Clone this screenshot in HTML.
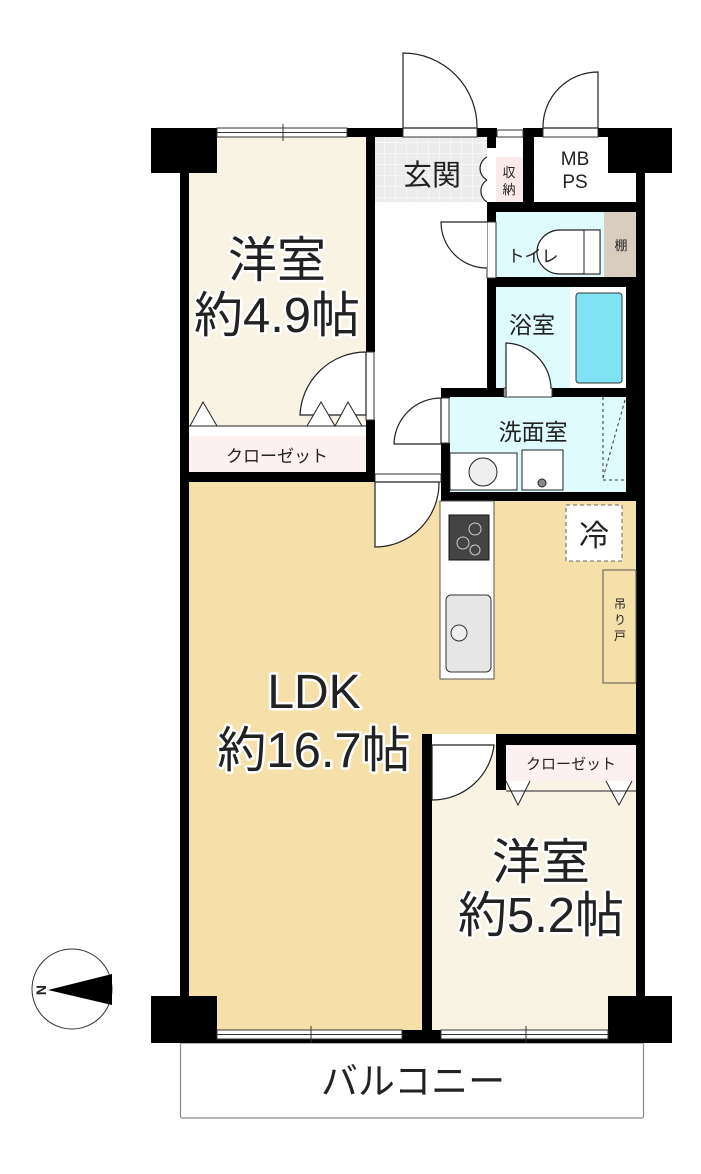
<!DOCTYPE html>
<html><head><meta charset="utf-8"><style>
html,body{margin:0;padding:0;background:#fff;}
svg{display:block;}
text{font-family:"Liberation Sans","Noto Sans CJK JP",sans-serif;fill:#222;}
.big{stroke:#fff;stroke-width:5;paint-order:stroke;stroke-linejoin:round;}
</style></head><body>
<svg width="701" height="1174" viewBox="0 0 701 1174" xmlns="http://www.w3.org/2000/svg">
<defs>
<pattern id="grid" width="11" height="11" patternUnits="userSpaceOnUse">
<rect width="11" height="11" fill="#ececec"/><path d="M11 0V11H0" fill="none" stroke="#fff" stroke-width="1"/>
</pattern>
</defs>
<rect x="180.5" y="1043" width="463" height="75" fill="#fff" stroke="#888" stroke-width="1.2" rx="2"/>
<rect x="189" y="137" width="177" height="335" fill="#f9f3e4"/>
<rect x="189" y="436" width="177" height="36" fill="#fdf0f0"/>
<rect x="189" y="426" width="177" height="10" fill="#fff"/>
<rect x="375" y="137" width="112" height="65" fill="url(#grid)"/>
<rect x="496" y="157" width="27" height="45" fill="#fbeaea"/>
<rect x="534" y="137" width="74" height="65" fill="#fff"/>
<rect x="496" y="212" width="108" height="65" fill="#dffbfd"/>
<rect x="604" y="212" width="32" height="65" fill="#d8cdbf"/>
<rect x="496" y="287" width="130" height="101" fill="#dffbfd"/>
<rect x="570" y="287" width="56" height="101" fill="#fff"/>
<rect x="576" y="293" width="46" height="90" fill="#7fe3f3" stroke="#333" stroke-width="1" rx="3"/>
<rect x="450" y="397" width="177" height="95" fill="#dffbfd"/>
<rect x="189" y="482" width="243" height="552" fill="#f6e0a9"/>
<rect x="432" y="501" width="204" height="233" fill="#f6e0a9"/>
<rect x="432" y="745" width="204" height="289" fill="#f9f3e4"/>
<rect x="506" y="745" width="130" height="36" fill="#fdf0f0"/>
<g fill="#000">
<rect x="180" y="137" width="9" height="906"/>
<rect x="636" y="137" width="9" height="906"/>
<rect x="151" y="128" width="66" height="45"/>
<rect x="608" y="128" width="64" height="45"/>
<rect x="151" y="996" width="66" height="47"/>
<rect x="608" y="996" width="64" height="47"/>
<rect x="347" y="128" width="56" height="9"/>
<rect x="477" y="128" width="20" height="9"/>
<rect x="523" y="128" width="20" height="9"/>
<rect x="598" y="128" width="12" height="9"/>
<rect x="366" y="128" width="9" height="224"/>
<rect x="366" y="420" width="9" height="62"/>
<rect x="189" y="472" width="186" height="10"/>
<rect x="487" y="128" width="9" height="20"/>
<rect x="487" y="202" width="9" height="20"/>
<rect x="487" y="278" width="9" height="119"/>
<rect x="523" y="137" width="11" height="65"/>
<rect x="487" y="202" width="158" height="10"/>
<rect x="487" y="277" width="149" height="10"/>
<rect x="626" y="287" width="19" height="110"/>
<rect x="626" y="397" width="19" height="104"/>
<rect x="441" y="388" width="63" height="9"/>
<rect x="552" y="388" width="93" height="9"/>
<rect x="441" y="388" width="9" height="10"/>
<rect x="441" y="443" width="9" height="58"/>
<rect x="441" y="492" width="204" height="9"/>
<rect x="422" y="734" width="10" height="300"/>
<rect x="496" y="734" width="149" height="11"/>
<rect x="496" y="734" width="10" height="56"/>
<rect x="402" y="1030" width="39" height="13"/>
<rect x="217" y="1039" width="391" height="4"/>
</g>
<g fill="#fff" stroke="#333" stroke-width="1">
<rect x="217" y="128" width="130" height="9"/>
<rect x="217" y="1030" width="185" height="9"/>
<rect x="441" y="1030" width="167" height="9"/>
<rect x="403" y="128" width="74" height="9"/>
<rect x="543" y="128" width="55" height="9"/>
<rect x="497" y="130" width="26" height="7"/>
<rect x="366" y="352" width="8" height="68"/>
<rect x="441" y="398" width="8" height="45"/>
<rect x="487" y="222" width="9" height="56"/>
<rect x="504" y="388" width="48" height="9"/>
<rect x="375" y="474" width="66" height="8"/>
</g>
<path d="M217 132.5H347M217 1034.5H402M441 1034.5H608" stroke="#333" stroke-width="1"/>
<path d="M283 124V141M311 1026V1043M526 1026V1043" stroke="#333" stroke-width="1"/>
<g fill="#fff" stroke="#222" stroke-width="1.2">
<path d="M403 128V53A74 74 0 0 1 477 128Z"/>
<path d="M598 128V72A55 55 0 0 0 543 128Z"/>
<path d="M366 415H300A66 66 0 0 1 366 352Z"/>
<path d="M441 444H394A47 47 0 0 1 441 398Z"/>
<path d="M487 222H441A46 46 0 0 0 487 268"/>
<path d="M506 397V343A47 47 0 0 1 551 388"/>
<path d="M375 482V547A64 64 0 0 0 439 482Z"/>
<path d="M432 745V800A62 62 0 0 0 494 745Z"/>
<path d="M487 157A13 13 0 0 0 487 180M487 180A13 13 0 0 0 487 202"/>
</g>
<g fill="#fff" stroke="#222" stroke-width="1">
<path d="M190 426L203 402L217 426M307 426L321 402L335 426L348 402L362 426"/>
<path d="M506 781L518 805L530 781M606 781L619 805L632 781"/>
</g>
<path d="M189 426H366M506 791H636" stroke="#222" stroke-width="1"/>
<path d="M600 230H560A23 22 0 0 0 560 274H600Z" fill="#fff" stroke="#222" stroke-width="1.2"/>
<rect x="584" y="230" width="16" height="44" fill="#fff" stroke="#222" stroke-width="1"/>
<rect x="450" y="453" width="67" height="37" fill="#fff" stroke="#222"/>
<circle cx="483" cy="472" r="14" fill="#eee" stroke="#222"/>
<rect x="522" y="450" width="41" height="40" fill="#fff" stroke="#222"/>
<circle cx="542" cy="483" r="4" fill="#888" stroke="#222"/>
<path d="M603 397V480M603 480H626M603 478L625 400" stroke="#333" stroke-dasharray="3 3" fill="none"/>
<rect x="440" y="501" width="54" height="178" fill="#fff" stroke="#555"/>
<rect x="449" y="515" width="40" height="45" fill="#444" stroke="#111"/>
<g stroke="#ccc" stroke-width="1" fill="none"><circle cx="475" cy="529" r="6"/><circle cx="463" cy="543" r="6"/><circle cx="475" cy="550" r="5"/></g>
<rect x="446" y="595" width="45" height="77" rx="5" fill="#e6e6e6" stroke="#333"/>
<circle cx="459" cy="633" r="8" fill="#eee" stroke="#333"/>
<rect x="566" y="505" width="56" height="56" fill="#fff" stroke="#666" stroke-dasharray="4 3"/>
<rect x="603" y="570" width="33" height="113" fill="#f6e0a9" stroke="#555"/>
<circle cx="72" cy="989" r="40" fill="#fff" stroke="#333" stroke-width="1"/>
<path d="M48 990L112 974V1005Z" fill="#000"/>
<text x="40" y="996" font-size="14" font-weight="bold" transform="rotate(-90 40 990)" text-anchor="middle">N</text>
<g text-anchor="middle">
<text class="big" x="277" y="277" font-size="49">洋室</text>
<text class="big" x="277" y="332" font-size="49">約4.9帖</text>
<text x="277" y="462" font-size="17">クローゼット</text>
<text x="432" y="185" font-size="29">玄関</text>
<text x="509" y="177" font-size="13">収</text>
<text x="509" y="194" font-size="13">納</text>
<text x="575" y="165" font-size="19">MB</text>
<text x="575" y="188" font-size="19">PS</text>
<text x="533" y="262" font-size="17">トイレ</text>
<text x="621" y="250" font-size="13">棚</text>
<text x="532" y="333" font-size="23">浴室</text>
<text x="533" y="440" font-size="23">洗面室</text>
<text x="594" y="546" font-size="30">冷</text>
<text x="620" y="608" font-size="12">吊</text>
<text x="620" y="624" font-size="12">り</text>
<text x="620" y="640" font-size="12">戸</text>
<text class="big" x="314" y="708" font-size="48">LDK</text>
<text class="big" x="314" y="767" font-size="49">約16.7帖</text>
<text x="571" y="769" font-size="15">クローゼット</text>
<text class="big" x="541" y="879" font-size="49">洋室</text>
<text class="big" x="541" y="932" font-size="49">約5.2帖</text>
<text x="413" y="1094" font-size="37">バルコニー</text>
</g>
</svg>
</body></html>
